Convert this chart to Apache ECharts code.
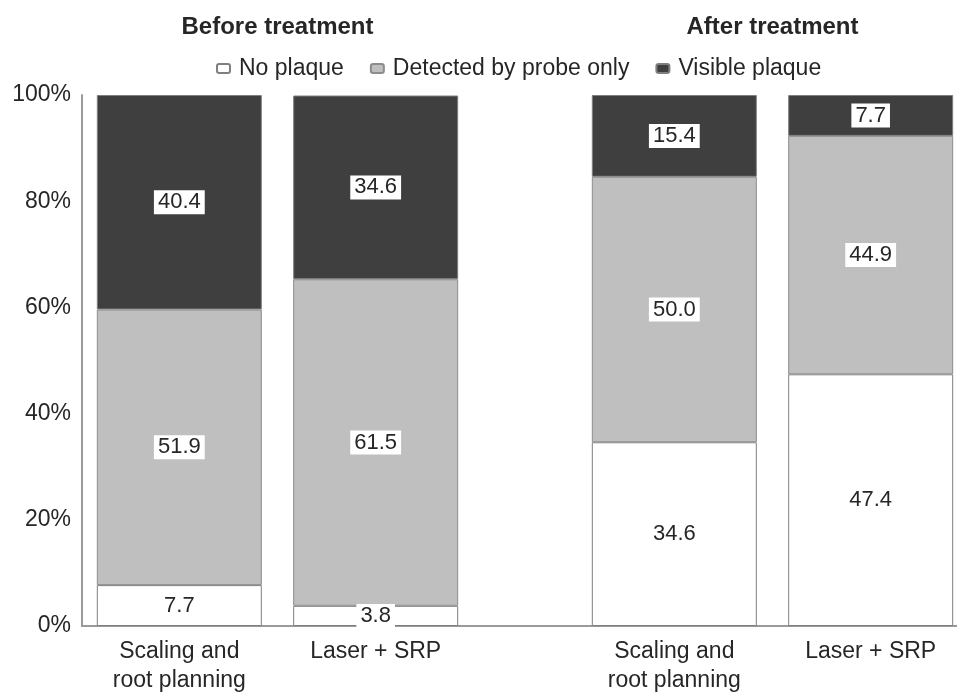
<!DOCTYPE html>
<html>
<head>
<meta charset="utf-8">
<script src="https://cdn.jsdelivr.net/npm/echarts@6/dist/echarts.min.js"></script>
<style>html,body{margin:0;padding:0;background:#fff}#c{width:957px;height:696px}</style>
</head>
<body>
<div id="c"></div>
<script>
// ---- data ----
const periods = ['Before treatment', 'After treatment'];
const methods = ['Scaling and\nroot planning', 'Laser + SRP'];
const plaqueTypes = ['No plaque', 'Detected by probe only', 'Visible plaque'];
// values per period [Before, After]
const srpNoPlaque = [7.7, 34.6];
const srpProbe = [51.9, 50.0];
const srpVisible = [40.4, 15.4];
const laserNoPlaque = [3.8, 47.4];
const laserProbe = [61.5, 44.9];
const laserVisible = [34.6, 7.7];
const yTicks = ['0%', '20%', '40%', '60%', '80%', '100%'];

// ---- styles ----
const FONT = "'Liberation Sans', Arial, sans-serif";
const TXT = '#262626';
const colors = { 'No plaque': '#ffffff', 'Detected by probe only': '#bfbfbf', 'Visible plaque': '#3f3f3f' };
const borders = { 'No plaque': '#7f7f7f', 'Detected by probe only': '#8c8c8c', 'Visible plaque': '#7f7f7f' };

const stacks = [
  { key: 'srp', name: methods[0], values: [srpNoPlaque, srpProbe, srpVisible] },
  { key: 'laser', name: methods[1], values: [laserNoPlaque, laserProbe, laserVisible] }
];

const series = [];
stacks.forEach(st => {
  // zero-height base carrying the method label under each bar
  series.push({
    type: 'bar', name: st.name, stack: st.key, xAxisIndex: 0, yAxisIndex: 0,
    barWidth: 165, barGap: '19%',
    data: periods.map(() => 0),
    itemStyle: { color: 'rgba(0,0,0,0)' },
    label: {
      show: true, position: 'bottom', distance: 11,
      formatter: () => st.name,
      fontFamily: FONT, fontSize: 23, lineHeight: 29, color: TXT
    },
    silent: true
  });
  plaqueTypes.forEach((pt, i) => {
    series.push({
      type: 'bar', name: pt, stack: st.key, xAxisIndex: 0, yAxisIndex: 0,
      barWidth: 165, barGap: '19%',
      data: st.values[i],
      itemStyle: { color: colors[pt], borderColor: borders[pt], borderWidth: 1 },
      label: {
        show: true, position: 'inside',
        formatter: p => Number(p.value).toFixed(1),
        fontFamily: FONT, fontSize: 22, color: TXT,
        backgroundColor: '#ffffff', padding: [2, 4, 0, 4]
      }
    });
  });
});

const chart = echarts.init(document.getElementById('c'), null, { renderer: 'canvas' });
chart.setOption({
  animation: false,
  backgroundColor: '#ffffff',
  legend: {
    data: plaqueTypes,
    left: 211, top: 52,
    itemWidth: 13, itemHeight: 9, itemGap: 26,
    textStyle: { fontFamily: FONT, fontSize: 23, color: TXT, padding: [0, 0, 0, 4] }
  },
  grid: [
    { left: 30, width: 990, top: 95, bottom: 70, outerBoundsMode: 'none', containLabel: false },
    { left: 82, right: 0, top: 95, bottom: 70, outerBoundsMode: 'none', containLabel: false }
  ],
  xAxis: [
    {
      type: 'category', gridIndex: 0, position: 'top', data: periods,
      axisLine: { show: false }, axisTick: { show: false },
      axisLabel: { margin: 56, fontFamily: FONT, fontSize: 24, fontWeight: 'bold', color: TXT }
    },
    {
      type: 'value', gridIndex: 1, min: 0, max: 1, position: 'bottom',
      axisLine: { show: true, lineStyle: { color: '#9a9a9a', width: 2 } },
      axisTick: { show: false }, axisLabel: { show: false }, splitLine: { show: false }
    }
  ],
  yAxis: [
    { type: 'value', gridIndex: 0, min: 0, max: 100, show: false },
    {
      type: 'value', gridIndex: 1, min: 0, max: 100, interval: 20,
      axisLine: { show: true, lineStyle: { color: '#9a9a9a', width: 2 } },
      axisTick: { show: false }, splitLine: { show: false },
      axisLabel: {
        margin: 11, fontFamily: FONT, fontSize: 23, color: TXT,
        formatter: v => yTicks[Math.round(v / 20)]
      }
    }
  ],
  series: series
});
</script>
</body>
</html>
